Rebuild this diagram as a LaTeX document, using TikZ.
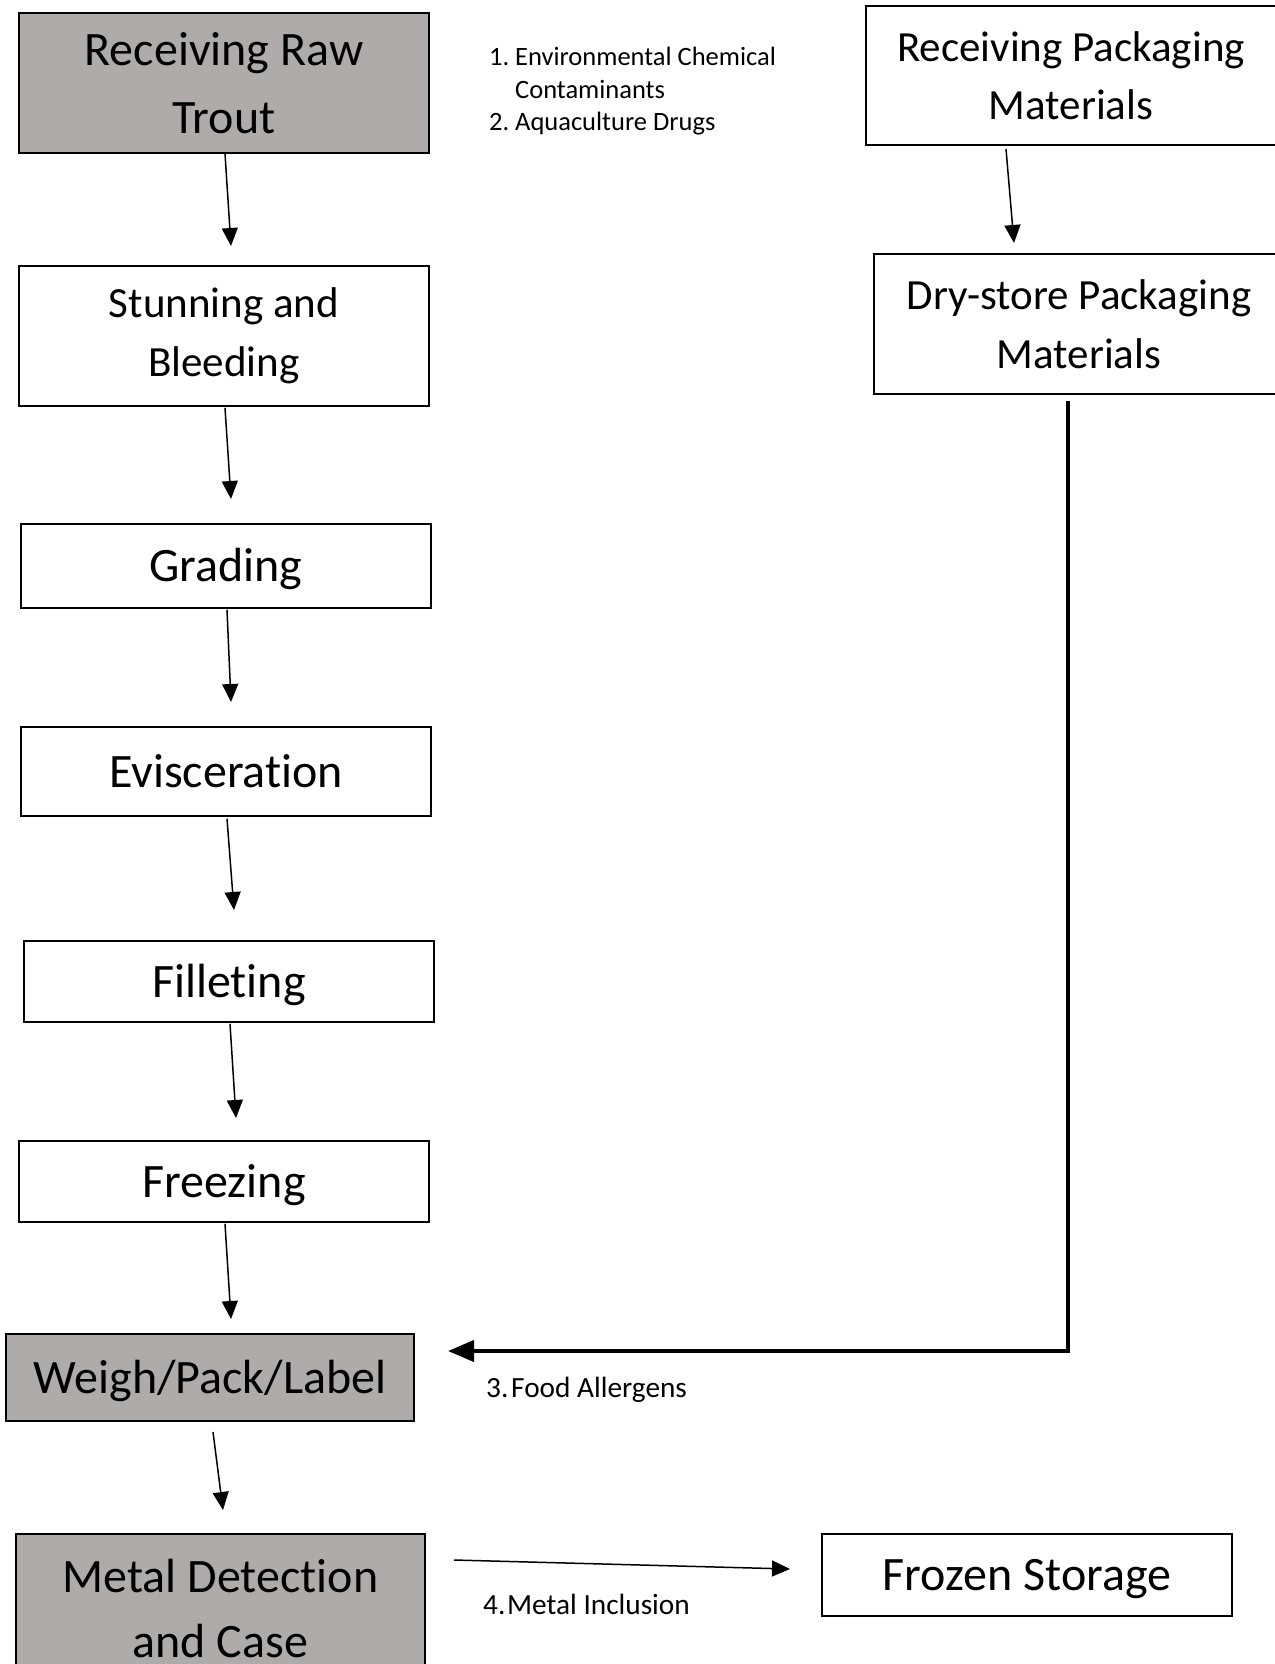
\documentclass[tikz,border=0pt]{standalone}
\usepackage{fontspec}
\setmainfont{Carlito}[Ligatures={NoCommon,NoRequired}]
\usetikzlibrary{arrows.meta}
\definecolor{boxgray}{HTML}{AFABAB}
\begin{document}
\begin{tikzpicture}[x=1pt,y=-1pt,
  procbox/.style={draw=black, line width=1.5pt, minimum width=410pt, inner sep=0pt, align=center, font=\fontsize{48}{59}\selectfont, text=black},
  oneline/.style={text height=40pt, text depth=9pt},
  smallbox/.style={font=\fontsize{43}{59}\selectfont},
  ccp/.style={procbox, fill=boxgray},
  flow/.style={line width=1.5pt, -{Triangle[length=18pt,width=16pt]}},
  bigflow/.style={line width=4pt, -{Triangle[length=26pt,width=21pt]}},
  hazard/.style={inner sep=0pt, anchor=north west, text=black}
]
\useasboundingbox (0,0) rectangle (1274,1664);
\fill[white] (0,0) rectangle (1274,1664);

% main process column
\node[ccp, minimum height=140pt, font=\fontsize{48}{68}\selectfont] (raw) at (224,83) {Receiving Raw\\Trout};
\node[procbox, smallbox, minimum height=140pt] (stun) at (224,336) {Stunning and\\Bleeding};
\node[procbox, oneline, minimum height=84pt] (grade) at (226,566) {Grading};
\node[procbox, oneline, minimum height=89pt] (evisc) at (226,771.5) {Evisceration};
\node[procbox, oneline, minimum height=81pt] (fillet) at (229,981.5) {Filleting};
\node[procbox, oneline, minimum height=81pt] (freeze) at (224,1181.5) {Freezing};
\node[ccp, oneline, minimum width=408pt, minimum height=87pt] (weigh) at (210,1377.5) {Weigh/Pack/Label};
\node[ccp, minimum width=409pt, minimum height=148pt, font=\fontsize{48}{65}\selectfont] (metal) at (220.5,1608) {Metal Detection\\and Case};
\node[procbox, oneline, minimum height=82pt] (frozen) at (1027,1575) {Frozen Storage};

% packaging column
\node[procbox, minimum height=139pt, font=\fontsize{43}{58}\selectfont] (recpack) at (1071,75.5) {Receiving Packaging\\Materials};
\node[procbox, smallbox, minimum height=140pt] (dry) at (1079,324) {Dry-store Packaging\\Materials};

% hazard notes
\node[hazard, font=\fontsize{26.5}{32.5}\selectfont] (h12) at (489,43) {\begin{tabular}{@{}p{26pt}@{}l@{}}1.&Environmental Chemical\\&Contaminants\\2.&Aquaculture Drugs\end{tabular}};
\node[hazard, anchor=base west, font=\fontsize{29.3}{34}\selectfont] (h3) at (486,1397) {\makebox[25pt][l]{3.}Food Allergens};
\node[hazard, anchor=base west, font=\fontsize{29.3}{34}\selectfont] (h4) at (483,1614) {\makebox[24pt][l]{4.}Metal Inclusion};

% connector end points
\coordinate (a1e) at (231,246);
\coordinate (a2e) at (231,499);
\coordinate (a3e) at (231,702);
\coordinate (a4e) at (234,910);
\coordinate (a5e) at (236,1118);
\coordinate (a6e) at (231,1319);
\coordinate (a7s) at (213,1432);
\coordinate (a7e) at (223,1510);
\coordinate (a8s) at (454,1560);
\coordinate (a8e) at (790,1569);
\coordinate (p1s) at (1006,149);
\coordinate (p1e) at (1014,243);
\coordinate (t0) at (1068,401);
\coordinate (t1) at (1068,1351);
\coordinate (t2) at (448,1351);

\draw[flow] ([xshift=1pt]raw.south) -- (a1e);
\draw[flow] ([xshift=1pt,yshift=-1pt]stun.south) -- (a2e);
\draw[flow] ([xshift=1pt,yshift=-1pt]grade.south) -- (a3e);
\draw[flow] ([xshift=1pt,yshift=-2pt]evisc.south) -- (a4e);
\draw[flow] ([xshift=1pt,yshift=-1pt]fillet.south) -- (a5e);
\draw[flow] ([xshift=1pt,yshift=-1pt]freeze.south) -- (a6e);
\draw[flow] (a7s) -- (a7e);
\draw[flow] (a8s) -- (a8e);
\draw[flow] (p1s) -- (p1e);
\draw[bigflow] (t0) -- (t1) -- (t2);
\end{tikzpicture}
\end{document}
